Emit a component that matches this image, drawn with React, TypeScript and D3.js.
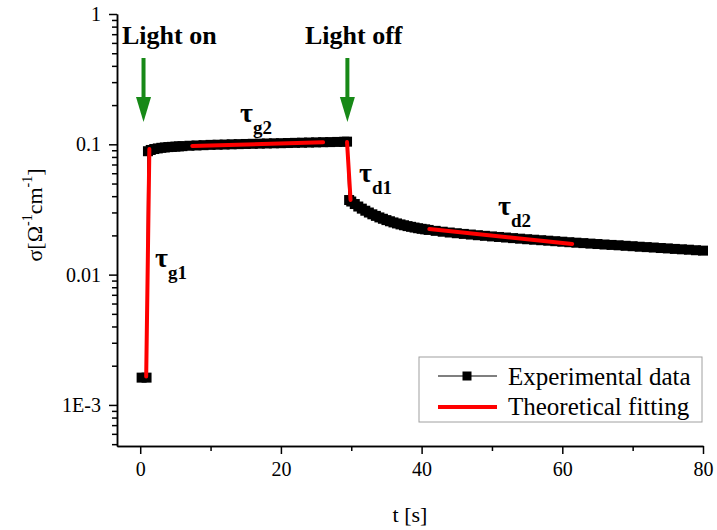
import React, { useEffect, useRef } from "react";
import * as d3 from "d3";

// experimental photoconductivity data (t in s, sigma in Ohm^-1 cm^-1)
const expTime = [
  0.2, 0.9, 1.1, 1.5, 2, 2.5, 3, 3.5, 4, 4.5, 5, 5.5, 6, 7, 8, 9, 10, 11, 12, 13,
  14, 15, 16, 17, 18, 19, 20, 21, 22, 23, 24, 25, 26, 27, 28, 29, 29.4,
  29.7, 30, 30.5, 31, 31.5, 32, 32.5, 33, 33.5, 34, 34.5, 35, 35.5, 36, 36.5,
  37, 37.5, 38, 38.5, 39, 39.5, 40, 40.5, 41, 42, 43, 44, 45, 46, 47, 48, 49,
  50, 51, 52, 53, 54, 55, 56, 57, 58, 59, 60, 61, 62, 63, 64, 65, 66, 67, 68,
  69, 70, 71, 72, 73, 74, 75, 76, 77, 78, 79, 80,
];
const expSigma = [
  0.00162, 0.00162, 0.0885, 0.0905, 0.092, 0.093, 0.094, 0.0946, 0.0952, 0.0956,
  0.096, 0.0964, 0.0968, 0.0975, 0.098, 0.0985, 0.099, 0.0993, 0.0996, 0.1,
  0.1003, 0.1006, 0.1009, 0.1012, 0.1015, 0.1018, 0.102, 0.1023, 0.1026, 0.1029,
  0.1032, 0.1035, 0.1038, 0.104, 0.1043, 0.1046, 0.1048,
  0.03736, 0.03639, 0.03481, 0.03331, 0.03209, 0.03093, 0.02996, 0.02903,
  0.02824, 0.02748, 0.02683, 0.0262, 0.02567, 0.02515, 0.02471, 0.02428,
  0.02392, 0.02356, 0.02327, 0.02297, 0.0227, 0.02246, 0.02225, 0.02203,
  0.02167, 0.02134, 0.02104, 0.02078, 0.02053, 0.0203, 0.02006, 0.01985,
  0.01964, 0.01945, 0.01926, 0.01906, 0.01887, 0.01869, 0.01853, 0.01837,
  0.01821, 0.01805, 0.01789, 0.01773, 0.01758, 0.01745, 0.0173, 0.01717,
  0.01702, 0.0169, 0.01679, 0.01664, 0.01652, 0.01637, 0.01626, 0.01614,
  0.016, 0.01589, 0.01575, 0.01564, 0.01553, 0.01539, 0.01528,
];

// theoretical fitting segments
const fitG1Time = [0.85, 1.3];
const fitG1Sigma = [0.00165, 0.092];
const fitG2Time = [7.4, 26];
const fitG2Sigma = [0.0972, 0.1036];
const fitD1Time = [29.4, 29.9];
const fitD1Sigma = [0.104, 0.0374];
const fitD2Time = [41.1, 61.4];
const fitD2Sigma = [0.0224, 0.0172];

const xMajorTicks = [0, 20, 40, 60, 80];
const xMinorTicks = [10, 30, 50, 70];
const yMajorTicks = [0.001, 0.01, 0.1, 1];
const yTickLabels = ["1E-3", "0.01", "0.1", "1"];

// light on / off markers (time of the arrows)
const eventTimes = [0.47, 29.45];
const eventLabels = ["Light on", "Light off"];

const tauLabels = [
  { sub: "g1", x: 155, y: 267 },
  { sub: "g2", x: 240, y: 122 },
  { sub: "d1", x: 359, y: 182 },
  { sub: "d2", x: 498, y: 215 },
];

const App = () => {
  const chartRef = useRef<SVGSVGElement>(null);

  useEffect(() => {
    document.body.style.margin = "0";
    const width = 717;
    const height = 530;
    const font = "'Liberation Serif', 'Times New Roman', serif";

    d3.select(chartRef.current).selectAll("*").remove();
    const svg = d3
      .select(chartRef.current)
      .attr("width", width)
      .attr("height", height)
      .attr("font-family", font)
      .style("display", "block");

    const x = d3.scaleLinear().domain([-3.3, 80]).range([117, 703]);
    const y = d3.scaleLog().domain([4.84e-4, 1]).range([446, 14]);

    // minor y ticks: 2..9 of each decade
    const yMinorTicks: number[] = [];
    [0.0001, 0.001, 0.01, 0.1].forEach((d) => {
      for (let k = 2; k <= 9; k++) {
        const v = d * k;
        if (v >= 4.84e-4 && v < 1) yMinorTicks.push(v);
      }
    });

    const styleAxis = (g) => {
      g.attr("font-family", font).attr("font-size", 20);
      g.select(".domain").attr("stroke", "#000").attr("stroke-width", 1.5);
      g.selectAll(".tick line").attr("stroke", "#000").attr("stroke-width", 1.5);
      g.selectAll(".tick text").attr("fill", "#000");
    };

    svg
      .append("g")
      .attr("transform", "translate(0,446)")
      .call(d3.axisBottom(x).tickValues(xMinorTicks).tickSize(5).tickSizeOuter(0).tickFormat(() => ""))
      .call(styleAxis);
    svg
      .append("g")
      .attr("transform", "translate(0,446)")
      .call(
        d3.axisBottom(x).tickValues(xMajorTicks).tickSize(8).tickPadding(8).tickSizeOuter(0).tickFormat(d3.format("d"))
      )
      .call(styleAxis);

    svg
      .append("g")
      .attr("transform", "translate(117,0)")
      .call(d3.axisLeft(y).tickValues(yMinorTicks).tickSize(5).tickSizeOuter(0).tickFormat(() => ""))
      .call(styleAxis);
    svg
      .append("g")
      .attr("transform", "translate(117,0)")
      .call(
        d3
          .axisLeft(y)
          .tickValues(yMajorTicks)
          .tickSize(8)
          .tickPadding(8)
          .tickSizeOuter(0)
          .tickFormat((d, i) => yTickLabels[i])
      )
      .call(styleAxis);

    // experimental data
    const exp = expTime.map((t, i) => [t, expSigma[i]]);
    const line = d3
      .line()
      .x((d) => x(d[0]))
      .y((d) => y(d[1]));
    svg
      .append("path")
      .datum(exp)
      .attr("fill", "none")
      .attr("stroke", "#000")
      .attr("stroke-width", 1.5)
      .attr("d", line);
    const sq = 10;
    svg
      .selectAll(".pt")
      .data(exp)
      .enter()
      .append("rect")
      .attr("x", (d) => x(d[0]) - sq / 2)
      .attr("y", (d) => y(d[1]) - sq / 2)
      .attr("width", sq)
      .attr("height", sq)
      .attr("fill", "#000");

    // theoretical fittings
    [
      [fitG1Time, fitG1Sigma],
      [fitG2Time, fitG2Sigma],
      [fitD1Time, fitD1Sigma],
      [fitD2Time, fitD2Sigma],
    ].forEach(([ts, ss]) => {
      svg
        .append("path")
        .datum(ts.map((t, i) => [t, ss[i]]))
        .attr("fill", "none")
        .attr("stroke", "#ff0000")
        .attr("stroke-width", 4)
        .attr("stroke-linecap", "round")
        .attr("d", line);
    });

    // light on/off arrows
    const green = "#178917";
    eventTimes.forEach((t, i) => {
      const ax = x(t);
      svg
        .append("line")
        .attr("x1", ax)
        .attr("x2", ax)
        .attr("y1", 58)
        .attr("y2", 100)
        .attr("stroke", green)
        .attr("stroke-width", 4);
      svg
        .append("path")
        .attr("d", `M${ax - 7.5},97 L${ax + 7.5},97 L${ax},122 Z`)
        .attr("fill", green);
      svg
        .append("text")
        .attr("x", i === 0 ? 122 : 305)
        .attr("y", 44)
        .attr("font-size", 26)
        .attr("font-weight", "bold")
        .text(eventLabels[i]);
    });

    // tau labels
    tauLabels.forEach((l) => {
      const tx = svg
        .append("text")
        .attr("x", l.x)
        .attr("y", l.y)
        .attr("font-weight", "bold")
        .attr("font-size", 28);
      tx.append("tspan").text("τ");
      tx.append("tspan").attr("dy", 12).attr("font-size", 19).text(l.sub);
    });

    // legend
    const lg = svg.append("g");
    lg.append("rect")
      .attr("x", 419)
      .attr("y", 357)
      .attr("width", 283)
      .attr("height", 65)
      .attr("fill", "#fff")
      .attr("stroke", "#a0a0a0")
      .attr("stroke-width", 1);
    lg.append("line")
      .attr("x1", 438)
      .attr("x2", 497)
      .attr("y1", 376)
      .attr("y2", 376)
      .attr("stroke", "#000")
      .attr("stroke-width", 1.2);
    lg.append("rect")
      .attr("x", 467 - 4.5)
      .attr("y", 376 - 4.5)
      .attr("width", 9)
      .attr("height", 9)
      .attr("fill", "#000");
    lg.append("line")
      .attr("x1", 438)
      .attr("x2", 497)
      .attr("y1", 407)
      .attr("y2", 407)
      .attr("stroke", "#ff0000")
      .attr("stroke-width", 4);
    lg.append("text").attr("x", 508).attr("y", 385).attr("font-size", 25).text("Experimental data");
    lg.append("text").attr("x", 508).attr("y", 415).attr("font-size", 25).text("Theoretical fitting");

    // axis titles
    svg
      .append("text")
      .attr("x", 410)
      .attr("y", 522)
      .attr("text-anchor", "middle")
      .attr("font-size", 22)
      .text("t [s]");

    const yl = svg
      .append("text")
      .attr("transform", "translate(42,215) rotate(-90)")
      .attr("text-anchor", "middle")
      .attr("font-size", 22);
    yl.append("tspan").text("σ[Ω");
    yl.append("tspan").attr("dy", -10).attr("font-size", 14).text("-1");
    yl.append("tspan").attr("dy", 10).text("cm");
    yl.append("tspan").attr("dy", -10).attr("font-size", 14).text("-1");
    yl.append("tspan").attr("dy", 10).text("]");
  }, []);

  return <svg ref={chartRef}></svg>;
};

export default App;
